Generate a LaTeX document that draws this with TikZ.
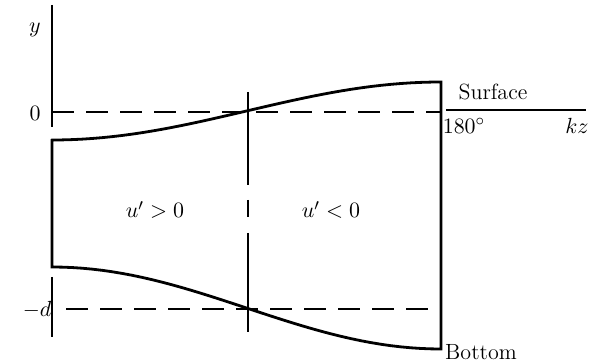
\documentclass[tikz,border=0pt]{standalone}
\usepackage{amsmath}
\usepackage{tikz}
\usetikzlibrary{positioning}
\tikzstyle{wall} = [line width=1.4pt, line join=miter]
\tikzstyle{axis} = [line width=1.3pt]
\tikzstyle{level} = [line width=1.4pt, dash pattern=on 11pt off 6pt]
\tikzstyle{label} = [inner sep=1pt, font=\fontsize{11}{13}\selectfont]

\begin{document}
\begin{tikzpicture}[x=0.5pt, y=-0.5pt]
    \useasboundingbox (0,0) rectangle (594,363);
    % Corners of the region
    \coordinate (axtop) at (52,5);
    \coordinate (axmid) at (52,127);
    \coordinate (axlow) at (52,277);
    \coordinate (axend) at (52,337);
    \coordinate (SL) at (52,140);
    \coordinate (BL) at (52,267);
    \coordinate (SR) at (441,82);
    \coordinate (BR) at (441,348);
    \coordinate (zero0) at (52,112);
    \coordinate (zero1) at (440,112);
    \coordinate (depth0) at (66,309);
    \coordinate (depth1) at (440,309);
    \coordinate (midtop) at (248,92);
    \coordinate (midbot) at (248,332);
    \coordinate (surf0) at (446,110);
    \coordinate (surf1) at (586,110);

    % Labels
    \node [label] (ylab) at (35,30) {$y$};
    \node [label] (zlab) at (35,113) {$0$};
    \node [label] (dlab) at (37,310) {$-d$};
    \node [label] (upos) at (155,210) {$u'>0$};
    \node [label] (uneg) at (331,210) {$u'<0$};
    \node [label] (surface) at (493,92) {Surface};
    \node [label] (deg) at (464,126) {$180^\circ$};
    \node [label] (kz) at (577,126) {$kz$};
    \node [label] (bottom) at (481,352) {Bottom};

    % Axis pieces
    \draw [axis] (axtop) -- (axmid);
    \draw [axis] (axlow) -- (axend);
    \draw [line width=1.1pt] (surf0) -- (surf1);

    % Mean levels and the middle section
    \draw [level] (zero0) -- (zero1);
    \draw [level] (depth0) -- (depth1);
    \draw [axis, dash pattern=on 46.5pt off 7.5pt on 8.5pt off 8pt on 50pt] (midtop) -- (midbot);

    % Surface and bottom
    \draw [wall] (SL) -- (BL)
        -- plot[domain=0:180, samples=40] ({52+2.1611*\x},{308-41*cos(\x)})
        -- (SR)
        -- plot[domain=180:0, samples=40] ({52+2.1611*\x},{111+29*cos(\x)})
        -- cycle;
\end{tikzpicture}
\end{document}
